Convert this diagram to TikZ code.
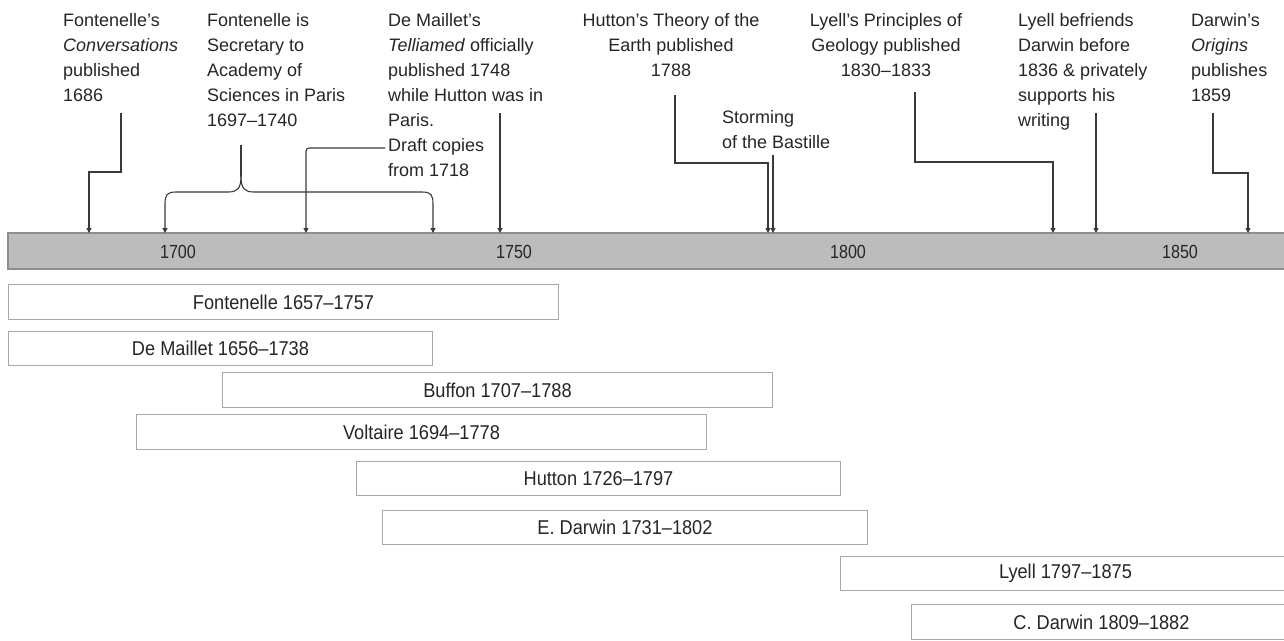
\documentclass[tikz,border=0pt]{standalone}
\usepackage{fontspec}
\setmainfont{Liberation Sans}
\newfontfamily\condfont[FakeStretch=0.91]{Liberation Sans}
\newfontfamily\yearfont[FakeStretch=0.85]{Liberation Sans}
\usetikzlibrary{arrows.meta}
\definecolor{txt}{HTML}{262626}
\definecolor{ln}{HTML}{3A3A3A}
\definecolor{barfill}{HTML}{BCBCBC}
\definecolor{barline}{HTML}{8E8E8E}
\definecolor{boxline}{HTML}{A8A8A8}
\begin{document}
\begin{tikzpicture}[x=1pt,y=-1pt,
  note/.style={inner sep=0pt, align=left, anchor=north west, text=txt, font=\fontsize{18}{25}\selectfont},
  cnote/.style={note, align=center, anchor=north},
  conn/.style={draw=ln, line width=1.1pt, -{Triangle[length=5pt,width=5pt]}},
  plainln/.style={draw=ln, line width=1.1pt},
  life/.style={draw=boxline, line width=1pt, fill=white, text=txt, anchor=north west,
    font=\condfont\fontsize{20}{22}\selectfont, inner sep=0pt},
  yearlab/.style={text=txt, inner sep=0pt, font=\yearfont\fontsize{19}{20}\selectfont}
]
\useasboundingbox (0,0) rectangle (1284,640);
\fill[white] (0,0) rectangle (1284,640);

% axis bar
\node[fill=barfill, draw=none, minimum width=1290pt, minimum height=36pt, inner sep=0pt, anchor=north west] (axis) at (8,233) {};
\draw[barline, line width=1.2pt] (1300,233) -- (8,233) -- (8,269) -- (1300,269);
\node[yearlab] (y1700) at (178,252) {1700};
\node[yearlab] (y1750) at (514,252) {1750};
\node[yearlab] (y1800) at (848,252) {1800};
\node[yearlab] (y1850) at (1180,252) {1850};

% targets on the bar
\coordinate (t1) at (89,233);
\coordinate (t2a) at (165,233);
\coordinate (t2b) at (433,233);
\coordinate (t3) at (306,233);
\coordinate (t4) at (500,233);
\coordinate (t5) at (768,233);
\coordinate (t6) at (773,233);
\coordinate (t7) at (1053,233);
\coordinate (t8) at (1096,233);
\coordinate (t9) at (1248,233);

% event notes
\node[note] (n1) at (63,13.5) {Fontenelle’s\\\textit{Conversations}\\published\\1686};
\node[note] (n2) at (207,13.5) {Fontenelle is\\Secretary to\\Academy of\\Sciences in Paris\\1697–1740};
\node[note] (n3) at (388,13.5) {De Maillet’s\\\textit{Telliamed} officially\\published 1748\\while Hutton was in\\Paris.\\Draft copies\\from 1718};
\node[cnote] (n4) at (671,13.5) {Hutton’s Theory of the\\Earth published\\1788};
\node[note] (n5) at (722,110.5) {Storming\\of the Bastille};
\node[cnote] (n6) at (886,13.5) {Lyell’s Principles of\\Geology published\\1830–1833};
\node[note] (n7) at (1018,13.5) {Lyell befriends\\Darwin before\\1836 \& privately\\supports his\\writing};
\node[note] (n8) at (1191,13.5) {Darwin’s\\\textit{Origins}\\publishes\\1859};

% connector starts
\coordinate (s1) at (121,113);
\coordinate (s2) at (241,145);
\coordinate (s3a) at (385,148);
\coordinate (s3b) at (500,113);
\coordinate (s4) at (675,95);
\coordinate (s5) at (773,155);
\coordinate (s6) at (915,92);
\coordinate (s7) at (1096,113);
\coordinate (s8) at (1213,113);

% connectors
\draw[conn] (s1) -- ++(0,59) -| (t1);
\draw[plainln] (s2) -- (241,176);
\draw[conn] (241,176) .. controls (241,189) and (237,192) .. (228,192) -- (176,192)
   .. controls (167,192) and (165,195) .. (165,204) -- (t2a);
\draw[conn] (241,176) .. controls (241,189) and (245,192) .. (254,192) -- (422,192)
   .. controls (431,192) and (433,195) .. (433,204) -- (t2b);
\draw[conn, rounded corners=3pt] (s3a) -| (t3);
\draw[conn] (s3b) -- (t4);
\draw[conn] (s4) -- ++(0,68) -| (t5);
\draw[conn] (s5) -- (t6);
\draw[conn] (s6) -- ++(0,70) -| (t7);
\draw[conn] (s7) -- (t8);
\draw[conn] (s8) -- ++(0,60) -| (t9);

% lifespans
\node[life, minimum width=550pt, minimum height=35pt] (fon) at (8,284) {Fontenelle 1657–1757};
\node[life, minimum width=424pt, minimum height=34pt] (dem) at (8,331) {De Maillet 1656–1738};
\node[life, minimum width=550pt, minimum height=35pt] (buf) at (222,372) {Buffon 1707–1788};
\node[life, minimum width=570pt, minimum height=35pt] (vol) at (136,414) {Voltaire 1694–1778};
\node[life, minimum width=484pt, minimum height=34pt] (hut) at (356,461) {Hutton 1726–1797};
\node[life, minimum width=485pt, minimum height=34pt] (eda) at (382,510) {E. Darwin 1731–1802};
\node[life, minimum width=450pt, minimum height=34pt] (lye) at (840,556) {Lyell 1797–1875};
\node[life, minimum width=380pt, minimum height=35pt] (cda) at (911,604) {C. Darwin 1809–1882};
\end{tikzpicture}
\end{document}
